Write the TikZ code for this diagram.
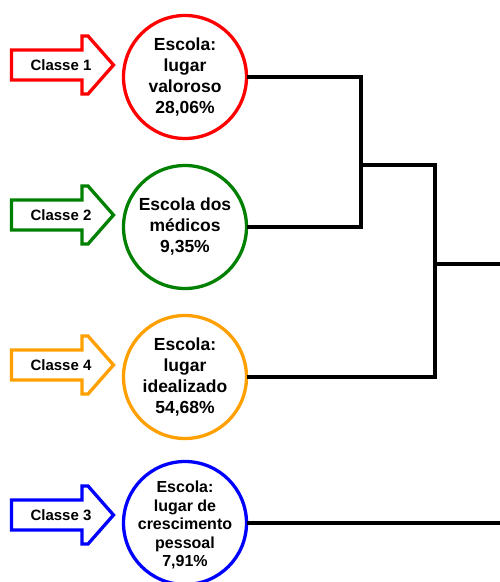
\documentclass[tikz,border=0pt]{standalone}
\usepackage{fontspec}
\setmainfont{Liberation Sans}
\definecolor{cred}{RGB}{255,0,0}
\definecolor{cgreen}{RGB}{0,128,0}
\definecolor{corange}{RGB}{255,160,0}
\definecolor{cblue}{RGB}{0,0,255}
\begin{document}
\begin{tikzpicture}[x=1pt,y=-1pt,
  classcircle/.style={circle, line width=3.3pt, minimum size=123pt, inner sep=0pt, fill=white},
  circletext/.style={align=center, font=\bfseries\fontsize{17.5}{21}\selectfont, inner sep=0pt},
  classarrow/.style={line width=3.3pt, line join=miter, fill=white},
  arrowtext/.style={font=\bfseries\fontsize{15}{17}\selectfont, inner sep=0pt},
  link/.style={line width=3.3pt, line cap=rect}]
\useasboundingbox (0,0) rectangle (499,582);

% class arrows: body from x=11 to 82, head tip at x=114
\foreach \c/\col/\lab/\nm in {65/cred/Classe 1/a1, 215/cgreen/Classe 2/a2, 365/corange/Classe 4/a3, 515/cblue/Classe 3/a4}{
  \draw[classarrow, draw=\col] (11.5,\c-15) -- (82,\c-15) -- (82,\c-29) -- (88,\c-29)
     -- (113.5,\c) -- (88,\c+29) -- (82,\c+29) -- (82,\c+15) -- (11.5,\c+15) -- cycle;
  \node[arrowtext] (\nm) at (61,\c) {\lab};
}

% circles
\node[classcircle, draw=cred] (c1) at (185,77) {};
\node[classcircle, draw=cgreen] (c2) at (185,227) {};
\node[classcircle, draw=corange] (c3) at (185,377) {};
\node[classcircle, draw=cblue] (c4) at (185,523) {};

\node[circletext] (t1) at (c1) {Escola:\\lugar\\valoroso\\28,06\%};
\node[circletext] (t2) at (c2) {Escola dos\\médicos\\9,35\%};
\node[circletext] (t3) at (c3) {Escola:\\lugar\\idealizado\\54,68\%};
\node[circletext, font=\bfseries\fontsize{16}{18.5}\selectfont] (t4) at (185,525) {Escola:\\lugar de\\crescimento\\pessoal\\7,91\%};

% dendrogram
\coordinate (j1) at (361,165);
\coordinate (j2) at (435,264);
\coordinate (e1) at (499,264);
\coordinate (e2) at (499,523);
\draw[link] (c1.east) -| (j1) |- (c2.east);
\draw[link] (j1) -| (j2) |- (c3.east);
\draw[link] (j2) -- (e1);
\draw[link] (c4.east) -- (e2);
\end{tikzpicture}
\end{document}
